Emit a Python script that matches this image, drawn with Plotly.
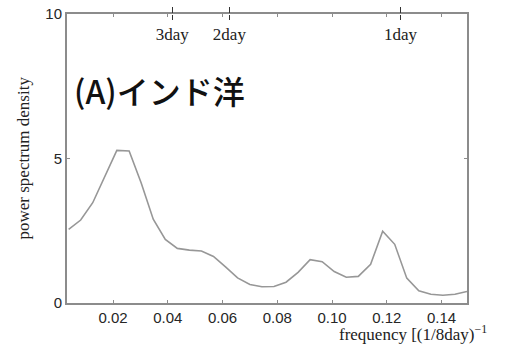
import plotly.graph_objects as go

freq = [0.0038, 0.0082, 0.0126, 0.0170, 0.0214, 0.0259, 0.0303, 0.0347, 0.0391, 0.0435,
        0.0479, 0.0523, 0.0567, 0.0611, 0.0655, 0.0700, 0.0744, 0.0788, 0.0832, 0.0876,
        0.0920, 0.0964, 0.1008, 0.1052, 0.1096, 0.1141, 0.1185, 0.1229, 0.1273, 0.1317,
        0.1361, 0.1405, 0.1449, 0.1493]
power = [2.55, 2.87, 3.47, 4.38, 5.28, 5.26, 4.15, 2.90, 2.20, 1.89,
         1.83, 1.80, 1.61, 1.25, 0.87, 0.64, 0.56, 0.57, 0.72, 1.06,
         1.50, 1.43, 1.09, 0.89, 0.92, 1.34, 2.48, 2.03, 0.86, 0.42,
         0.30, 0.27, 0.30, 0.40]

x_ticks = [0.02, 0.04, 0.06, 0.08, 0.10, 0.12, 0.14]
x_ticktext = ["0.02", "0.04", "0.06", "0.08", "0.10", "0.12", "0.14"]
y_ticks = [0, 5, 10]
period_ticks = [1 / 24, 1 / 16, 1 / 8]
period_text = ["3day", "2day", "1day"]

x_range = [0.0032, 0.1493]
axis_col = "#8c8c8c"
serif = "Liberation Serif, Times New Roman, serif"
sans = "Liberation Sans, Arial, sans-serif"

fig = go.Figure()
fig.add_trace(go.Scatter(x=freq, y=power, mode="lines",
                         line=dict(color="#979797", width=1.6), showlegend=False,
                         hoverinfo="skip"))
fig.add_trace(go.Scatter(x=[], y=[], xaxis="x2", showlegend=False))
fig.add_trace(go.Scatter(x=[], y=[], xaxis="x3", showlegend=False))

fig.update_layout(
    width=509, height=345,
    margin=dict(l=67, r=42, t=14, b=42, autoexpand=False),
    paper_bgcolor="white", plot_bgcolor="white",
    xaxis=dict(range=x_range, tickvals=x_ticks, ticktext=x_ticktext, automargin=False,
               showline=True, linecolor=axis_col, linewidth=2, mirror="ticks",
               ticks="inside", ticklen=3, tickcolor=axis_col, tickwidth=1,
               showgrid=False, zeroline=False,
               tickfont=dict(family=sans, size=15, color="#262626")),
    # period labels: a bottom-side axis placed at the top edge, so ticks and labels hang inside
    xaxis2=dict(range=x_range, overlaying="x", side="bottom", anchor="free", position=1,
                automargin=False, tickvals=period_ticks, ticktext=period_text,
                ticks="outside", ticklen=5, tickcolor="#333", tickwidth=1.5,
                showline=False, showgrid=False, zeroline=False,
                tickfont=dict(family=serif, size=17, color="#222")),
    # upper half of the period ticks, crossing the top frame
    xaxis3=dict(range=x_range, overlaying="x", side="top", anchor="y", automargin=False,
                tickvals=period_ticks, showticklabels=False,
                ticks="outside", ticklen=6, tickcolor="#333", tickwidth=1.5,
                showline=False, showgrid=False, zeroline=False),
    yaxis=dict(range=[0, 10], tickvals=y_ticks, automargin=False,
               showline=True, linecolor=axis_col, linewidth=2, mirror="ticks",
               ticks="inside", ticklen=3, tickcolor=axis_col, tickwidth=1,
               showgrid=False, zeroline=False,
               tickfont=dict(family=sans, size=15, color="#262626")),
    annotations=[
        dict(text="(A)インド洋", xref="paper", yref="paper", x=0.0125, y=0.737,
             xanchor="left", yanchor="middle", showarrow=False,
             font=dict(family="Noto Sans CJK JP", size=32, color="#111", weight=500)),
        dict(text="power spectrum density", xref="paper", yref="paper", x=-0.11, y=0.5,
             xanchor="center", yanchor="middle", textangle=-90, showarrow=False,
             font=dict(family=serif, size=17, color="#222")),
        dict(text="frequency [(1/8day)<sup>−1</sup>", xref="paper", yref="paper",
             x=0.675, y=-0.103, xanchor="left", yanchor="middle", showarrow=False,
             font=dict(family=serif, size=17, color="#222")),
    ],
)

fig.write_html("out.html", config={"displayModeBar": False, "staticPlot": True},
               post_script="document.body.style.margin='0px';document.body.style.overflow='hidden';")
